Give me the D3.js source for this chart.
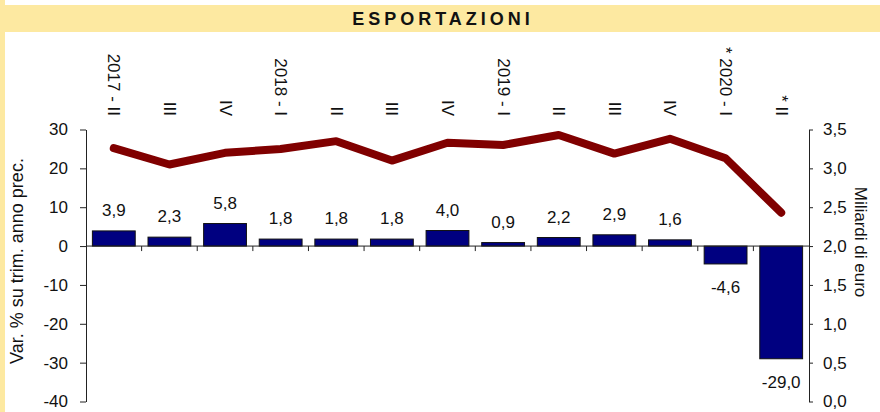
<!DOCTYPE html>
<html lang="it">
<head>
<meta charset="utf-8">
<title>Esportazioni</title>
<script src="https://cdn.jsdelivr.net/npm/d3@7"></script>
<style>
  body { margin: 0; background: #fff; }
  svg { display: block; font-family: Arial, "Liberation Sans", sans-serif; }
</style>
</head>
<body>
<div id="chart"></div>
<script>
// quarters (labels as printed on top of the chart)
var quarters = ["2017 - II", "III", "IV", "2018 - I", "II", "III", "IV",
                "2019 - I", "II", "III", "IV", "* 2020 - I", "* II"];
// % change on same quarter of previous year (bars, left axis)
var variazione = [3.9, 2.3, 5.8, 1.8, 1.8, 1.8, 4.0, 0.9, 2.2, 2.9, 1.6, -4.6, -29.0];
// billions of euro (line, right axis)
var miliardi = [3.26, 3.05, 3.20, 3.25, 3.35, 3.10, 3.33, 3.30, 3.43, 3.19, 3.38, 3.13, 2.43];
var leftTicks = [-40, -30, -20, -10, 0, 10, 20, 30];
var rightTicks = [0, 0.5, 1, 1.5, 2, 2.5, 3, 3.5];

var w = 880, h = 412;
var yellow = "#fde9a1";
var fs = "17px";

var svg = d3.select("#chart").append("svg")
    .attr("width", w)
    .attr("height", h);

// frame: left strip and title band
svg.append("rect").attr("x", 0).attr("y", 0).attr("width", 5).attr("height", h).attr("fill", yellow);
svg.append("rect").attr("x", 0).attr("y", 5).attr("width", w).attr("height", 27).attr("fill", yellow);
svg.append("text")
    .attr("x", 443).attr("y", 25)
    .attr("text-anchor", "middle")
    .attr("font-size", "18px")
    .attr("font-weight", "bold")
    .attr("letter-spacing", "4px")
    .attr("fill", "#111")
    .text("ESPORTAZIONI");

var x = d3.scaleBand().domain(d3.range(quarters.length))
    .range([86, 809]).paddingInner(0.23).paddingOuter(0.115);
var yL = d3.scaleLinear().domain([-40, 30]).range([401.5, 129.5]);
var yR = d3.scaleLinear().domain([0, 3.5]).range([401.5, 129.5]);

// plain hyphen and decimal comma, like the original
var comma = function(v) { return v.toFixed(1).replace(".", ","); };
var intf = function(v) { return String(v); };

// left axis
var gl = svg.append("g").attr("transform", "translate(86,0)")
    .call(d3.axisLeft(yL).tickValues(leftTicks).tickFormat(intf).tickSize(6).tickPadding(12).tickSizeOuter(0));
gl.selectAll("text").attr("font-size", fs).attr("fill", "#111").attr("font-family", "Arial, 'Liberation Sans', sans-serif");
gl.selectAll("line, path").attr("stroke", "#222");

// right axis
var gr = svg.append("g").attr("transform", "translate(809,0)")
    .call(d3.axisRight(yR).tickValues(rightTicks).tickFormat(comma).tickSize(4).tickPadding(10).tickSizeOuter(0));
gr.selectAll("text").attr("font-size", fs).attr("fill", "#111").attr("font-family", "Arial, 'Liberation Sans', sans-serif");
gr.selectAll("line, path").attr("stroke", "#222");

// bars
svg.selectAll("rect.bar")
   .data(variazione)
   .enter()
   .append("rect")
   .attr("class", "bar")
   .attr("x", function(d, i) { return x(i); })
   .attr("y", function(d) { return yL(Math.max(0, d)); })
   .attr("width", x.bandwidth())
   .attr("height", function(d) { return Math.abs(yL(d) - yL(0)); })
   .attr("fill", "#000080")
   .attr("stroke", "#111")
   .attr("stroke-width", 1);

// zero line with category ticks
svg.append("line")
    .attr("x1", 86).attr("x2", 809)
    .attr("y1", yL(0)).attr("y2", yL(0))
    .attr("stroke", "#222");
svg.selectAll("line.ctick")
   .data(d3.range(1, quarters.length))
   .enter()
   .append("line")
   .attr("class", "ctick")
   .attr("x1", function(d) { return x.range()[0] + d * x.step(); })
   .attr("x2", function(d) { return x.range()[0] + d * x.step(); })
   .attr("y1", yL(0)).attr("y2", yL(0) + 5)
   .attr("stroke", "#222");

// bar value labels
svg.selectAll("text.val")
   .data(variazione)
   .enter()
   .append("text")
   .attr("class", "val")
   .attr("text-anchor", "middle")
   .attr("x", function(d, i) { return x(i) + x.bandwidth() / 2; })
   .attr("y", function(d) { return d >= 0 ? yL(d) - 15 : yL(d) + 29; })
   .attr("font-size", fs)
   .attr("fill", "#111")
   .text(comma);

// line (right axis)
var line = d3.line()
    .x(function(d, i) { return x(i) + x.bandwidth() / 2; })
    .y(function(d) { return yR(d); });
svg.append("path")
    .datum(miliardi)
    .attr("d", line)
    .attr("fill", "none")
    .attr("stroke", "#800000")
    .attr("stroke-width", 8)
    .attr("stroke-linejoin", "round")
    .attr("stroke-linecap", "round");

// category labels on top
svg.selectAll("text.cat")
   .data(quarters)
   .enter()
   .append("text")
   .attr("class", "cat")
   .attr("transform", function(d, i) {
       return "translate(" + (x(i) + x.bandwidth() / 2) + ",116) rotate(90)";
   })
   .attr("text-anchor", "end")
   .attr("dominant-baseline", "central")
   .attr("font-size", fs)
   .attr("fill", "#111")
   .text(function(d) { return d; });

// axis titles
svg.append("text")
    .attr("transform", "translate(17,261) rotate(-90)")
    .attr("text-anchor", "middle")
    .attr("dominant-baseline", "central")
    .attr("font-size", "18px")
    .attr("fill", "#111")
    .text("Var. % su trim. anno prec.");
svg.append("text")
    .attr("transform", "translate(860,242) rotate(90)")
    .attr("text-anchor", "middle")
    .attr("dominant-baseline", "central")
    .attr("font-size", fs)
    .attr("fill", "#111")
    .text("Miliardi di euro");
</script>
</body>
</html>
